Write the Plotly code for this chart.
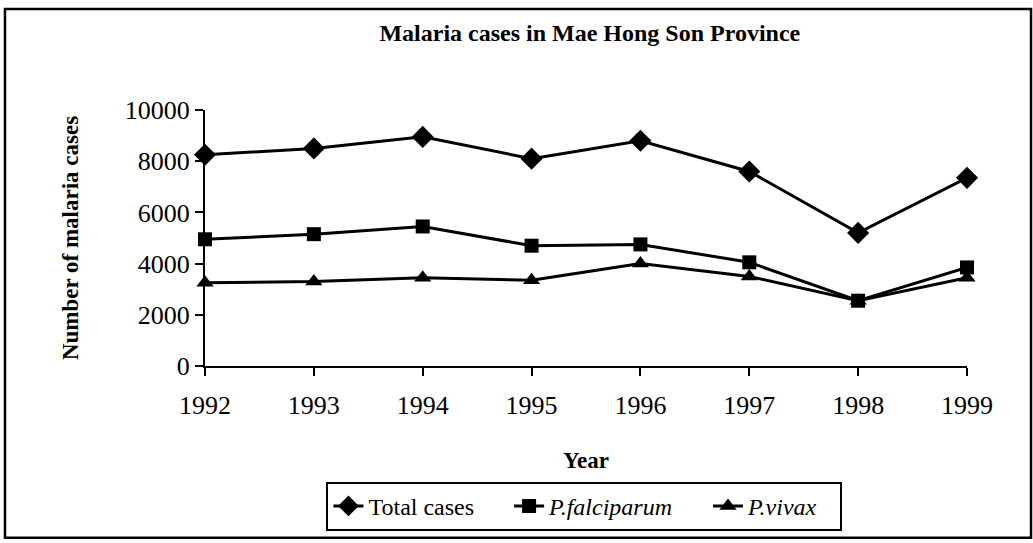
import plotly.graph_objects as go

# ---------- Data ----------
years = [1992, 1993, 1994, 1995, 1996, 1997, 1998, 1999]
total_cases = [8250, 8500, 8950, 8100, 8800, 7600, 5200, 7350]
p_falciparum = [4950, 5150, 5450, 4700, 4750, 4050, 2550, 3850]
p_vivax = [3250, 3300, 3450, 3350, 4000, 3500, 2550, 3450]
y_ticks = [0, 2000, 4000, 6000, 8000, 10000]

PAD = "&nbsp;" * 5
series = [
    ("Total cases" + PAD, total_cases, "diamond", 17),
    ("<i>P.falciparum</i>" + PAD, p_falciparum, "square", 14),
    ("<i>P.vivax</i>" + "&nbsp;" * 3, p_vivax, "triangle-up", 15),
]

FONT = "Liberation Serif, Times New Roman, serif"

fig = go.Figure()
for name, vals, sym, size in series:
    fig.add_trace(go.Scatter(
        x=years, y=vals, name=name, mode="lines+markers",
        line=dict(color="black", width=3),
        marker=dict(symbol=sym, size=size, color="black"),
        cliponaxis=False,
    ))

# plot area: x 205..967, y 110..368
fig.update_layout(
    width=1033, height=543,
    margin=dict(l=205, r=66, t=110, b=175),
    paper_bgcolor="white", plot_bgcolor="white",
    font=dict(family=FONT, color="black", size=24),
    title=dict(text="<b>Malaria cases in Mae Hong Son Province</b>",
               x=0.571, xanchor="center", y=0.94, yanchor="middle",
               font=dict(size=24)),
    showlegend=True,
    legend=dict(orientation="h", x=0.498, xanchor="center",
                y=-0.548, yanchor="middle",
                bordercolor="black", borderwidth=2,
                font=dict(size=24), tracegroupgap=0),
    xaxis=dict(range=[1992, 1999], tickvals=years, showgrid=False,
               zeroline=False, showline=True, linecolor="black", linewidth=2,
               ticks="outside", ticklen=8, tickwidth=2, tickcolor="black",
               ticklabelstandoff=7, tickfont=dict(size=26),
               title=dict(text="<b>Year</b>", font=dict(size=23), standoff=33)),
    yaxis=dict(range=[0, 10000], tickvals=y_ticks,
               ticktext=[str(v) for v in y_ticks], tickfont=dict(size=26),
               showgrid=False, zeroline=False, showline=True,
               linecolor="black", linewidth=2,
               ticks="outside", ticklen=8, tickwidth=2, tickcolor="black",
               title=dict(text="<b>Number of malaria cases</b>",
                          font=dict(size=23), standoff=40)),
)

# outer chart border
fig.add_shape(type="rect", xref="paper", yref="paper",
              x0=-0.2625, x1=1.084, y0=-0.671, y1=1.395,
              line=dict(color="black", width=2.5))

# page body has an 8px default margin; remove it so the figure sits at 0,0
fig.write_html("out.html", config={"displayModeBar": False},
               post_script="document.body.style.margin='0';")
